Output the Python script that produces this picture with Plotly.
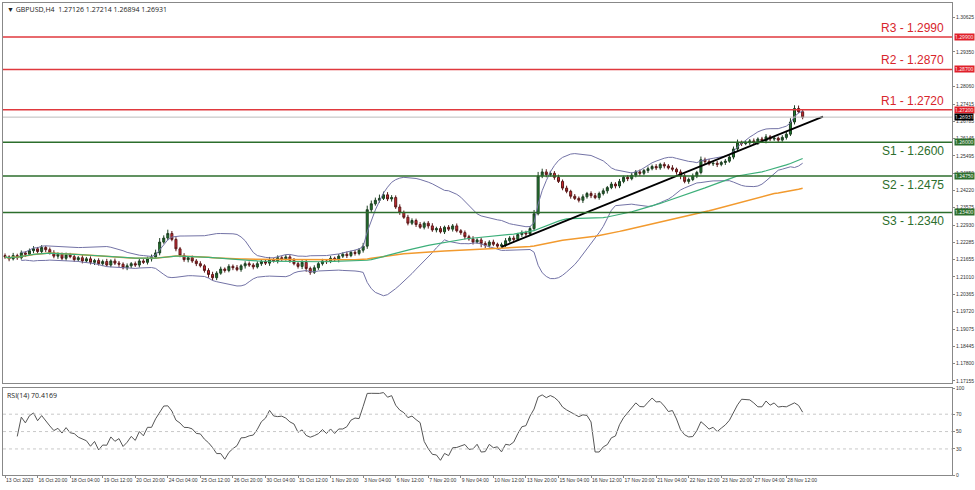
import numpy as np
import pandas as pd
import plotly.graph_objects as go

# 4h closes
closes = [
    1.2175, 1.2168, 1.2180, 1.2172, 1.2190, 1.2185, 1.2198, 1.2205, 1.2195, 1.2210,
    1.2202, 1.2190, 1.2178, 1.2185, 1.2170, 1.2182, 1.2176, 1.2165, 1.2172, 1.2160,
    1.2168, 1.2155, 1.2162, 1.2150, 1.2158, 1.2145, 1.2160, 1.2152, 1.2148, 1.2135,
    1.2142, 1.2150, 1.2145, 1.2160, 1.2155, 1.2168, 1.2175, 1.2190, 1.2230, 1.2245,
    1.2262, 1.2240, 1.2205, 1.2180, 1.2165, 1.2172, 1.2160, 1.2150, 1.2142, 1.2125,
    1.2110, 1.2098, 1.2115, 1.2130, 1.2125, 1.2140, 1.2135, 1.2128, 1.2142, 1.2150,
    1.2145, 1.2138, 1.2150, 1.2158, 1.2152, 1.2165, 1.2160, 1.2172, 1.2168, 1.2175,
    1.2162, 1.2150, 1.2140, 1.2155, 1.2132, 1.2118, 1.2135, 1.2150, 1.2160, 1.2158,
    1.2170, 1.2165, 1.2178, 1.2185, 1.2180, 1.2192, 1.2188, 1.2200, 1.2215, 1.2350,
    1.2372, 1.2385, 1.2392, 1.2405, 1.2390, 1.2395, 1.2360, 1.2340, 1.2322, 1.2300,
    1.2310, 1.2295, 1.2285, 1.2300, 1.2290, 1.2275, 1.2280, 1.2268, 1.2285, 1.2278,
    1.2290, 1.2272, 1.2265, 1.2250, 1.2242, 1.2230, 1.2238, 1.2225, 1.2218, 1.2230,
    1.2222, 1.2215, 1.2220, 1.2235, 1.2245, 1.2240, 1.2258, 1.2265, 1.2260, 1.2280,
    1.2335, 1.2475, 1.2490, 1.2480, 1.2485, 1.2470, 1.2455, 1.2430, 1.2418, 1.2400,
    1.2392, 1.2385, 1.2398, 1.2410, 1.2402, 1.2395, 1.2410, 1.2420, 1.2432, 1.2445,
    1.2438, 1.2455, 1.2470, 1.2465, 1.2478, 1.2490, 1.2485, 1.2495, 1.2502, 1.2510,
    1.2505, 1.2518, 1.2512, 1.2505, 1.2500, 1.2490, 1.2475, 1.2455, 1.2462, 1.2475,
    1.2488, 1.2535, 1.2528, 1.2520, 1.2522, 1.2518, 1.2525, 1.2530, 1.2545, 1.2575,
    1.2600, 1.2595, 1.2598, 1.2605, 1.2600, 1.2612, 1.2605, 1.2620, 1.2612, 1.2615,
    1.2608, 1.2618, 1.2630, 1.2675, 1.2725, 1.2713, 1.2693,
]
first_open = 1.2180
# wick lengths above / below the body, in pips
wick_up = [
    8, 6, 10, 7, 9, 6, 8, 10, 7, 9, 6, 8, 10, 7, 6, 9, 8, 7, 6, 10,
    7, 9, 6, 8, 7, 10, 6, 9, 8, 7, 9, 6, 8, 10, 7, 8, 9, 12, 15, 10,
    14, 9, 8, 7, 9, 6, 8, 7, 9, 6, 8, 10, 7, 9, 6, 8, 7, 10, 6, 9,
    8, 7, 9, 6, 8, 10, 7, 9, 6, 8, 7, 9, 6, 8, 10, 7, 9, 6, 8, 7,
    9, 6, 8, 7, 10, 6, 9, 8, 12, 15, 12, 10, 14, 12, 10, 9, 8, 10, 7, 9,
    8, 7, 9, 6, 8, 10, 7, 9, 6, 8, 7, 9, 6, 8, 7, 10, 6, 9, 8, 7,
    9, 6, 8, 10, 7, 9, 6, 8, 7, 9, 14, 15, 12, 10, 9, 8, 10, 7, 9, 6,
    8, 7, 9, 6, 8, 10, 7, 9, 6, 8, 7, 9, 6, 8, 10, 7, 9, 6, 8, 7,
    9, 6, 8, 7, 10, 6, 9, 8, 7, 9, 6, 12, 8, 10, 7, 9, 6, 8, 7, 9,
    10, 6, 8, 7, 9, 6, 8, 10, 7, 9, 6, 8, 12, 14, 12, 11, 9,
]
wick_dn = [
    7, 9, 6, 8, 7, 10, 6, 9, 8, 7, 9, 6, 8, 10, 7, 9, 6, 8, 7, 9,
    6, 8, 10, 7, 9, 6, 8, 7, 10, 6, 9, 8, 7, 9, 6, 8, 10, 7, 9, 6,
    8, 7, 9, 6, 8, 10, 7, 9, 6, 8, 12, 10, 9, 6, 8, 7, 9, 6, 8, 10,
    7, 9, 6, 8, 7, 10, 6, 9, 8, 7, 9, 6, 8, 10, 12, 9, 6, 8, 7, 9,
    6, 8, 10, 7, 9, 6, 8, 7, 9, 10, 8, 7, 9, 6, 8, 10, 7, 9, 6, 8,
    7, 9, 6, 8, 10, 7, 9, 6, 8, 7, 9, 6, 8, 10, 7, 9, 6, 14, 10, 8,
    7, 9, 6, 8, 7, 10, 6, 9, 8, 7, 9, 6, 8, 10, 7, 9, 6, 8, 7, 9,
    6, 8, 10, 7, 9, 6, 8, 7, 10, 6, 9, 8, 7, 9, 6, 8, 10, 7, 9, 6,
    8, 7, 9, 6, 8, 10, 12, 7, 9, 6, 8, 7, 9, 6, 8, 10, 7, 9, 6, 8,
    7, 9, 6, 8, 7, 10, 6, 9, 8, 7, 9, 6, 8, 7, 9, 6, 8,
]

tick_labels = [
    "13 Oct 2023", "16 Oct 20:00", "18 Oct 04:00", "19 Oct 12:00", "20 Oct 20:00",
    "24 Oct 04:00", "25 Oct 12:00", "26 Oct 20:00", "30 Oct 04:00", "31 Oct 12:00",
    "1 Nov 20:00", "3 Nov 04:00", "6 Nov 12:00", "7 Nov 20:00", "9 Nov 04:00",
    "10 Nov 12:00", "13 Nov 20:00", "15 Nov 04:00", "16 Nov 12:00", "17 Nov 20:00",
    "21 Nov 04:00", "22 Nov 12:00", "23 Nov 20:00", "27 Nov 04:00", "28 Nov 12:00",
]
resistances = [("R3", 1.2990), ("R2", 1.2870), ("R1", 1.2720)]
supports = [("S1", 1.2600), ("S2", 1.2475), ("S3", 1.2340)]
last_price = 1.26931
trend_x = [122, 201]
trend_y = [1.2212, 1.2695]
price_ticks = [1.30625, 1.29350, 1.28060, 1.27415, 1.26785, 1.26145, 1.25495, 1.24850,
               1.24220, 1.23575, 1.22930, 1.22285, 1.21655, 1.21010, 1.20365, 1.19720,
               1.19075, 1.18445, 1.17800, 1.17155]

close = pd.Series(closes)
opens = pd.Series([first_open] + closes[:-1])
highs = np.maximum(opens, close) + np.array(wick_up) / 10000
lows = np.minimum(opens, close) - np.array(wick_dn) / 10000
idx = np.arange(len(closes))

ma_fast = close.rolling(50, min_periods=1).mean()
ma_slow = close.rolling(100, min_periods=1).mean()
bb_mid = close.rolling(20, min_periods=5).mean()
bb_std = close.rolling(20, min_periods=5).std(ddof=0)
delta = close.diff()
gain = delta.clip(lower=0).rolling(14, min_periods=3).mean()
loss = (-delta.clip(upper=0)).rolling(14, min_periods=3).mean()
rsi = 100 - 100 / (1 + gain / loss)

fig = go.Figure()
band = dict(color="#7373a6", width=1)
fig.add_trace(go.Scatter(x=idx, y=bb_mid + 2 * bb_std, mode="lines", line=band))
fig.add_trace(go.Scatter(x=idx, y=bb_mid - 2 * bb_std, mode="lines", line=band))
fig.add_trace(go.Scatter(x=idx, y=ma_slow, mode="lines", line=dict(color="#f29a2e", width=1.5)))
fig.add_trace(go.Scatter(x=idx, y=ma_fast, mode="lines", line=dict(color="#3daf7a", width=1.2)))
fig.add_trace(go.Candlestick(
    x=idx, open=opens, high=highs, low=lows, close=close,
    increasing=dict(fillcolor="#1f7a2c", line=dict(color="#1d3f22", width=1)),
    decreasing=dict(fillcolor="#d42a32", line=dict(color="#5a1a1a", width=1)),
    whiskerwidth=0))
fig.add_trace(go.Scatter(x=trend_x, y=trend_y, mode="lines", line=dict(color="black", width=1.8)))
fig.add_trace(go.Scatter(x=idx, y=rsi, mode="lines", line=dict(color="#555", width=1),
                         xaxis="x2", yaxis="y2"))

shapes = []
annots = []
for name, lvl in resistances:
    shapes.append(dict(type="line", xref="paper", x0=0, x1=1, yref="y", y0=lvl, y1=lvl,
                       line=dict(color="#e0393e", width=1.5)))
    annots.append(dict(xref="paper", x=0.994, yref="y", y=lvl, text=f"{name} - {lvl:.4f}",
                       showarrow=False, xanchor="right", yanchor="bottom",
                       font=dict(color="#d8262c", size=12, family="Arial")))
    annots.append(dict(xref="paper", x=1.002, yref="y", y=lvl, text=f"{lvl:.5f}",
                       showarrow=False, xanchor="left", bgcolor="#e0202a",
                       font=dict(color="white", size=5), borderpad=0))
for name, lvl in supports:
    shapes.append(dict(type="line", xref="paper", x0=0, x1=1, yref="y", y0=lvl, y1=lvl,
                       line=dict(color="#2c6e2c", width=1.5)))
    annots.append(dict(xref="paper", x=0.994, yref="y", y=lvl, text=f"{name} - {lvl:.4f}",
                       showarrow=False, xanchor="right", yanchor="top",
                       font=dict(color="#2c6e2c", size=12, family="Arial")))
    annots.append(dict(xref="paper", x=1.002, yref="y", y=lvl, text=f"{lvl:.5f}",
                       showarrow=False, xanchor="left", bgcolor="#2c6e2c",
                       font=dict(color="white", size=5), borderpad=0))
shapes.append(dict(type="line", xref="paper", x0=0, x1=1, yref="y", y0=last_price, y1=last_price,
                   line=dict(color="#bbbbbb", width=1)))
for lv in [30, 50, 70]:
    shapes.append(dict(type="line", xref="paper", x0=0, x1=1, yref="y2", y0=lv, y1=lv,
                       line=dict(color="#c8c8c8", width=1, dash="dot")))
annots.append(dict(xref="paper", x=1.002, yref="y", y=last_price, text=f"{last_price:.5f}",
                   showarrow=False, xanchor="left", bgcolor="black",
                   font=dict(color="white", size=5), borderpad=0))
annots.append(dict(xref="paper", x=0.002, yref="paper", y=0.999,
                   text="▼ GBPUSD,H4  1.27126 1.27214 1.26894 1.26931",
                   showarrow=False, xanchor="left", yanchor="top", font=dict(size=7, color="#222")))
annots.append(dict(xref="paper", x=0.002, yref="paper", y=0.183,
                   text=f"RSI(14) {70.4169:.4f}", showarrow=False, xanchor="left",
                   yanchor="top", font=dict(size=7, color="#222")))

axis_common = dict(showgrid=False, zeroline=False, showline=True, linecolor="#888",
                   mirror=True, ticks="outside", ticklen=2, tickcolor="#888",
                   tickfont=dict(size=5, color="#333", family="Arial"), automargin=False)
fig.update_layout(
    width=975, height=490, margin=dict(l=3, r=23, t=3, b=15),
    plot_bgcolor="white", paper_bgcolor="white", showlegend=False,
    shapes=shapes, annotations=annots,
    xaxis=dict(axis_common, range=[-0.5, 232.7], rangeslider=dict(visible=False),
               showticklabels=False, ticks="", anchor="y"),
    yaxis=dict(axis_common, domain=[0.195, 1], range=[1.1708, 1.3116], side="right",
               tickvals=price_ticks, ticktext=[f"{v:.5f}" for v in price_ticks]),
    xaxis2=dict(axis_common, range=[-0.5, 232.7], anchor="y2", tickangle=0,
                ticklabelposition="outside right",
                tickvals=list(range(0, 8 * len(tick_labels), 8)), ticktext=tick_labels),
    yaxis2=dict(axis_common, domain=[0, 0.184], range=[0, 100], side="right",
                tickvals=[0, 30, 50, 70, 100], anchor="x2"),
)
fig.write_html("out.html", config={"displayModeBar": False},
               post_script="document.body.style.margin='0';")
